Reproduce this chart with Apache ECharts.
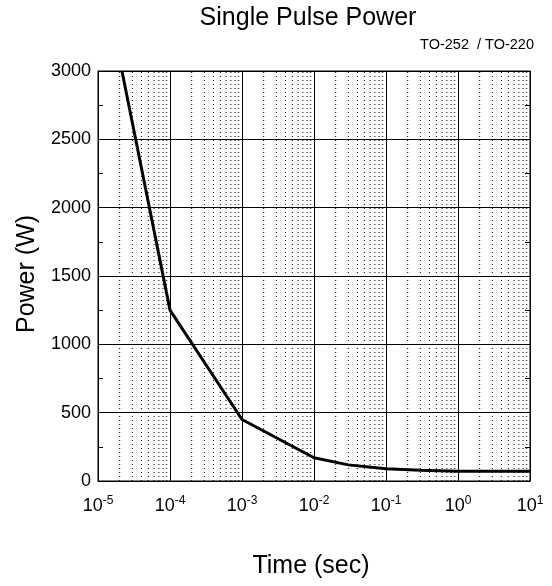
<!DOCTYPE html>
<html><head><meta charset="utf-8">
<script src="https://cdn.jsdelivr.net/npm/echarts@6/dist/echarts.min.js"></script>
<style>html,body{margin:0;padding:0;background:#fff}#c{width:552px;height:586px}</style>
</head><body><div id="c"></div>
<script>
const timeSec = [2.15e-5, 1e-4, 1e-3, 1e-2, 3e-2, 1e-1, 3e-1, 1, 10];
const powerW  = [3000, 1250, 450, 170, 118, 90, 78, 72, 72];
const yTicks = [0, 500, 1000, 1500, 2000, 2500, 3000];
const decades = [-5, -4, -3, -2, -1, 0, 1];
const minorMult = [2, 3, 4, 5, 6, 7, 8, 9];

// minor (dotted) vertical grid lines at 2..9 x 10^d, drawn through the axes
const minorGrid = [];
decades.slice(0, -1).forEach(d => minorMult.forEach(m => {
  const x = m * Math.pow(10, d);
  minorGrid.push([x, yTicks[0]], [x, yTicks[yTicks.length - 1]], [x, null]);
}));

const F = 'Liberation Sans, Arial, sans-serif';
const chart = echarts.init(document.getElementById('c'));
const yBase = {
  type: 'value', min: yTicks[0], max: yTicks[yTicks.length - 1], interval: 500,
  axisLine: { show: true, lineStyle: { color: '#000', width: 1 } },
  axisTick: { show: true, inside: true, length: 8, lineStyle: { color: '#000' } },
  minorTick: { show: true, splitNumber: 2, length: 5, lineStyle: { color: '#000' } },
  splitLine: { show: true, lineStyle: { color: '#000', width: 1 } }
};
chart.setOption({
  animation: false,
  graphic: [
    { type: 'text', x: 308, y: 18,
      style: { text: 'Single Pulse Power', font: '25px ' + F, fill: '#000', textAlign: 'center', textVerticalAlign: 'middle' } },
    { type: 'text', x: 534, y: 45,
      style: { text: 'TO-252  / TO-220', font: '14.5px ' + F, fill: '#000', textAlign: 'right', textVerticalAlign: 'middle' } },
    { type: 'text', x: 311, y: 566,
      style: { text: 'Time (sec)', font: '25px ' + F, fill: '#000', textAlign: 'center', textVerticalAlign: 'middle' } },
    { type: 'text', x: 27, y: 274, rotation: Math.PI / 2,
      style: { text: 'Power (W)', font: '25px ' + F, fill: '#000', textAlign: 'center', textVerticalAlign: 'middle' } }
  ],
  grid: { left: 98, right: 22, top: 71, bottom: 105, show: true, borderColor: '#000', borderWidth: 1 },
  xAxis: {
    type: 'log', logBase: 10, min: 1e-5, max: 10,
    axisLine: { show: true, onZero: false, lineStyle: { color: '#000' } },
    axisTick: { show: false },
    splitLine: { show: true, lineStyle: { color: '#000', width: 1 } },
    axisLabel: {
      margin: 14, color: '#000',
      formatter: v => { const e = Math.round(Math.log10(v)); return '{b|10}{s|' + e + '}'; },
      rich: {
        b: { fontFamily: F, fontSize: 18, color: '#000' },
        s: { fontFamily: F, fontSize: 12, color: '#000', padding: [0, 0, 10, 0] }
      }
    }
  },
  yAxis: [
    Object.assign({}, yBase, {
      position: 'left',
      axisLabel: { fontFamily: F, fontSize: 18, color: '#000', margin: 7, formatter: v => String(v) }
    }),
    Object.assign({}, yBase, {
      position: 'right', axisLabel: { show: false }, splitLine: { show: false }
    })
  ],
  series: [
    {
      type: 'line', data: minorGrid, symbol: 'none', silent: true, connectNulls: false,
      lineStyle: { color: '#000', width: 1, type: [1, 3] }, z: 1
    },
    {
      type: 'line', data: timeSec.map((t, i) => [t, powerW[i]]),
      symbol: 'none', lineStyle: { color: '#000', width: 3 }, z: 5
    }
  ]
});
</script></body></html>
